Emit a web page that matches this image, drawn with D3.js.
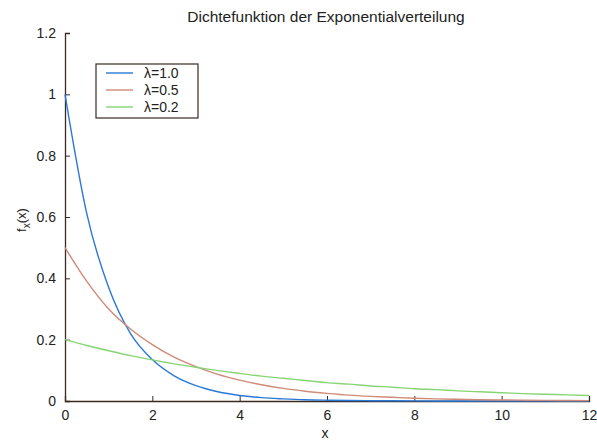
<!DOCTYPE html>
<html>
<head>
<meta charset="utf-8">
<script src="https://cdn.jsdelivr.net/npm/d3@7"></script>
<style>
  body { margin: 0; background: #fff; }
  svg text { font-family: "Liberation Sans", Arial, sans-serif; fill: #222; }
</style>
</head>
<body>
<svg id="chart" width="597" height="443"></svg>
<script>
// values
const xs = [0, 0.5, 1, 1.5, 2, 2.5, 3, 3.5, 4, 4.5, 5, 5.5, 6, 6.5, 7, 7.5, 8, 8.5, 9, 9.5, 10, 10.5, 11, 11.5, 12];
const lam10 = [1.00, 0.61, 0.37, 0.22, 0.135, 0.082, 0.05, 0.03, 0.018, 0.011, 0.007, 0.004, 0.0025, 0.0015, 0.001, 0.0006, 0.0003, 0.0002, 0.0001, 0.0001, 0, 0, 0, 0, 0];
const lam05 = [0.50, 0.39, 0.30, 0.235, 0.184, 0.143, 0.112, 0.087, 0.068, 0.053, 0.041, 0.032, 0.025, 0.019, 0.015, 0.012, 0.009, 0.007, 0.0055, 0.0043, 0.0034, 0.0026, 0.002, 0.0016, 0.0012];
const lam02 = [0.20, 0.181, 0.164, 0.148, 0.134, 0.121, 0.11, 0.099, 0.09, 0.081, 0.074, 0.067, 0.06, 0.055, 0.049, 0.045, 0.04, 0.037, 0.033, 0.03, 0.027, 0.024, 0.022, 0.02, 0.018];
const seriesNames = ["\u03bb=1.0", "\u03bb=0.5", "\u03bb=0.2"];
const seriesColors = ["#2a78d8", "#cf8a78", "#86d474"];
const xTicks = [0, 2, 4, 6, 8, 10, 12];
const yTicks = [0, 0.2, 0.4, 0.6, 0.8, 1, 1.2];

const margin = {top: 33, right: 8, bottom: 42, left: 65};
const width = 597 - margin.left - margin.right;
const height = 443 - margin.top - margin.bottom;

const svg = d3.select("#chart");
const g = svg.append("g").attr("transform", "translate(" + margin.left + "," + margin.top + ")");

const x = d3.scaleLinear().domain([0, 12]).range([0, width]);
const y = d3.scaleLinear().domain([0, 1.2]).range([height, 0]);

// axes, ticks pointing inwards like matlab
const xAxis = d3.axisBottom(x).tickValues(xTicks).tickSize(-5).tickPadding(9).tickFormat(d3.format("d"));
const yAxis = d3.axisLeft(y).tickValues(yTicks).tickSize(-5).tickPadding(9).tickFormat(d => d === 0 || d === 1 ? d3.format("d")(d) : d3.format(".1f")(d));

const gx = g.append("g").attr("transform", "translate(0," + height + ")").call(xAxis);
const gy = g.append("g").call(yAxis);
[gx, gy].forEach(a => {
  a.select(".domain").attr("stroke", "#3a2a22").attr("stroke-width", 1.3);
  a.selectAll(".tick line").attr("stroke", "#3a2a22");
  a.selectAll(".tick text").style("font-size", "14px").attr("fill", "#222");
});

const line = d3.line()
  .x((d, i) => x(xs[i]))
  .y(d => y(d))
  .curve(d3.curveMonotoneX);

[lam10, lam05, lam02].forEach((vals, i) => {
  g.append("path")
    .datum(vals)
    .attr("fill", "none")
    .attr("stroke", seriesColors[i])
    .attr("stroke-width", 1.4)
    .attr("d", line);
});

// title and labels
svg.append("text").attr("x", 326).attr("y", 22).attr("text-anchor", "middle")
  .style("font-size", "15.5px").text("Dichtefunktion der Exponentialverteilung");
svg.append("text").attr("x", 325).attr("y", 438).attr("text-anchor", "middle")
  .style("font-size", "14px").text("x");
const yl = svg.append("text").attr("transform", "translate(26,220) rotate(-90)")
  .attr("text-anchor", "middle").style("font-size", "13px");
yl.append("tspan").text("f");
yl.append("tspan").attr("dy", 4).style("font-size", "10px").text("x");
yl.append("tspan").attr("dy", -4).text("(x)");

// legend
const lg = svg.append("g").attr("transform", "translate(96,64)");
lg.append("rect").attr("width", 102).attr("height", 54)
  .attr("fill", "#fff").attr("stroke", "#3a2a22").attr("stroke-width", 1.2);
seriesNames.forEach((name, i) => {
  const yy = 9 + i * 17;
  lg.append("line").attr("x1", 10).attr("x2", 37).attr("y1", yy).attr("y2", yy)
    .attr("stroke", seriesColors[i]).attr("stroke-width", 1.4);
  lg.append("text").attr("x", 48).attr("y", yy + 5).style("font-size", "14px").text(name);
});
</script>
</body>
</html>
